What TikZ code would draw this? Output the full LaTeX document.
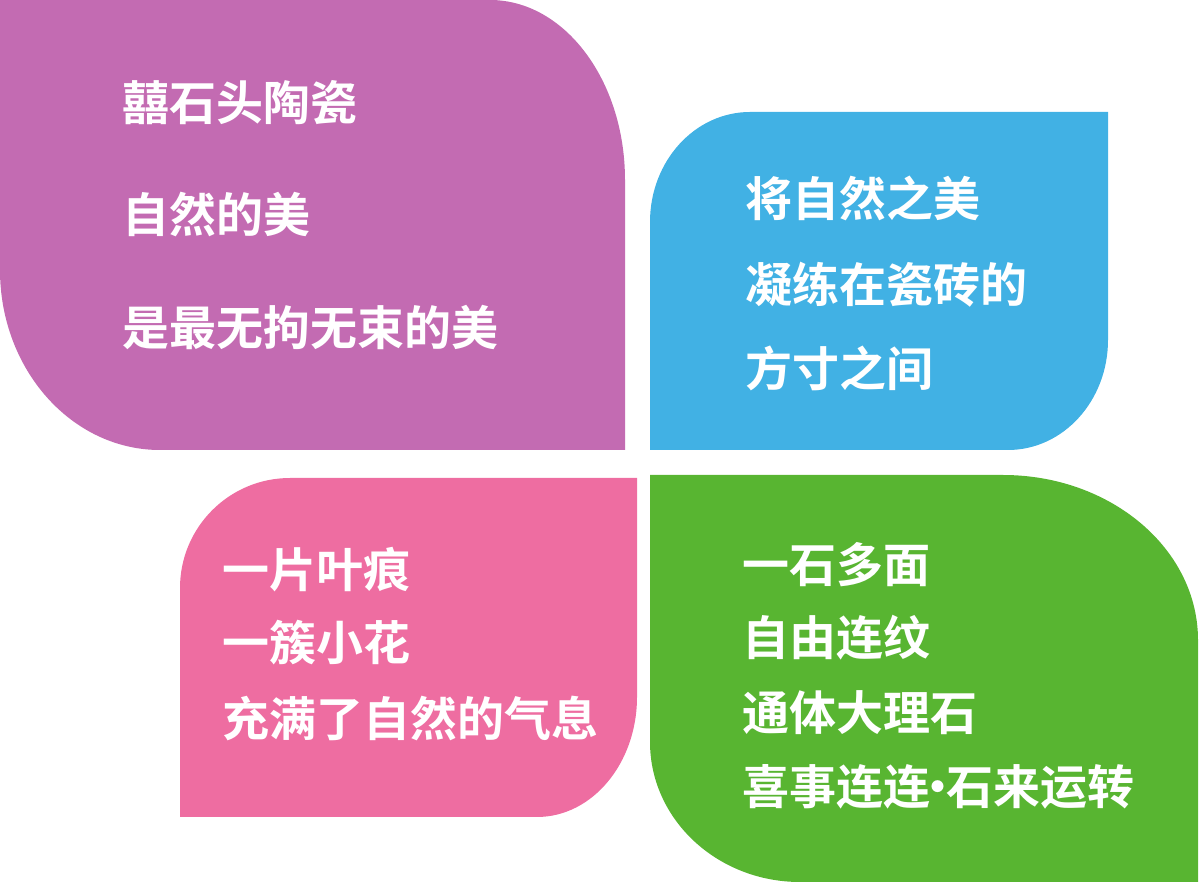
\documentclass[tikz,border=0pt]{standalone}
\usepackage{fontspec}
\newfontfamily\cjk{Noto Sans CJK SC}[BoldFont={Noto Sans CJK SC Bold}]
\definecolor{cpurple}{HTML}{C36BB2}
\definecolor{cblue}{HTML}{41B1E4}
\definecolor{cpink}{HTML}{EE6DA1}
\definecolor{cgreen}{HTML}{58B531}
\tikzset{txt/.style={anchor=west,inner sep=0pt,text=white,font=\cjk\bfseries\fontsize{23.5pt}{24pt}\selectfont}}
\begin{document}
\begin{tikzpicture}[x=0.5pt,y=-0.5pt]
\useasboundingbox (0,0) rectangle (1200,886);
% purple
\fill[cpurple] (0,0) -- (490,0) arc[start angle=-90,end angle=0,x radius=135,y radius=180] -- (625,450) -- (160,450)
  arc[start angle=90,end angle=180,x radius=160,y radius=180] -- cycle;
% blue
\fill[cblue] (750,112) -- (1108,112) -- (1108,340) arc[start angle=0,end angle=90,x radius=100,y radius=110]
  -- (650,450) -- (650,222) arc[start angle=180,end angle=270,x radius=100,y radius=110] -- cycle;
% pink
\fill[cpink] (290,478) -- (637,478) -- (637,697) arc[start angle=0,end angle=90,x radius=100,y radius=120]
  -- (180,817) -- (180,588) arc[start angle=180,end angle=270,x radius=110,y radius=110] -- cycle;
% green
\fill[cgreen] (650,475) -- (1003,475) arc[start angle=-90,end angle=0,x radius=195,y radius=165] -- (1198,882)
  -- (800,882) arc[start angle=90,end angle=180,x radius=150,y radius=140] -- cycle;
\node[txt] (p1) at (122,103) {囍石头陶瓷};
\node[txt] (p2) at (122,215) {自然的美};
\node[txt] (p3) at (122,328) {是最无拘无束的美};
\node[txt] (b1) at (745,198) {将自然之美};
\node[txt] (b2) at (745,285) {凝练在瓷砖的};
\node[txt] (b3) at (745,368) {方寸之间};
\node[txt] (k1) at (222,570) {一片叶痕};
\node[txt] (k2) at (222,643) {一簇小花};
\node[txt] (k3) at (222,718) {充满了自然的气息};
\node[txt] (g1) at (742,565) {一石多面};
\node[txt] (g2) at (742,638) {自由连纹};
\node[txt] (g3) at (742,713) {通体大理石};
\node[txt] (g4) at (742,787) {喜事连连\hspace{-0.33em}·\hspace{-0.33em}石来运转};
\end{tikzpicture}
\end{document}
